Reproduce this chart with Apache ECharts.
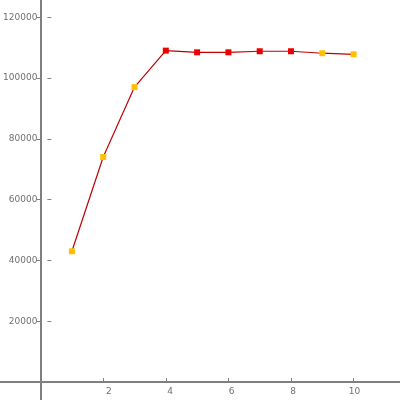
<!DOCTYPE html>
<html><head><meta charset="utf-8">
<script src="https://cdn.jsdelivr.net/npm/echarts@6/dist/echarts.min.js"></script>
<style>html,body{margin:0;padding:0;background:#fff}#c{width:400px;height:400px}</style>
</head><body><div id="c"></div>
<script>
const xs = [1, 2, 3, 4, 5, 6, 7, 8, 9, 10];
const ys = [43000, 74000, 97000, 109000, 108450, 108450, 108800, 108800, 108150, 107800];
const redXs = [4, 5, 6, 7, 8];

const chart = echarts.init(document.getElementById('c'), null, {renderer: 'canvas'});
const gray = '#808080';
const labelStyle = {color: '#707070', fontSize: 9, fontFamily: 'DejaVu Sans'};
const yFmt = v => (v > 0 && v <= 120000 ? String(v) : '');
const xFmt = v => (v > 0 && v <= 10 ? String(v) : '');
chart.setOption({
  animation: false,
  grid: [
    {left: -22, right: -16.2, top: -43.6, bottom: -42.8, containLabel: false, outerBoundsMode: 'none'},
    {left: 40.6, right: 0, top: 0, bottom: 18, containLabel: false}
  ],
  xAxis: [{
    gridIndex: 0, type: 'value', min: -2, max: 12, interval: 2,
    axisLine: {onZero: true, lineStyle: {color: gray, width: 2}},
    axisTick: {show: true, inside: true, length: 4, lineStyle: {color: gray}},
    axisLabel: {show: false},
    splitLine: {show: false}
  }, {
    gridIndex: 1, type: 'value', min: 0, max: 11.482, interval: 2,
    axisLine: {show: false, onZero: false},
    axisTick: {show: false},
    axisLabel: Object.assign({show: true, margin: 5, formatter: xFmt, showMaxLabel: false}, labelStyle),
    splitLine: {show: false}
  }],
  yAxis: [{
    gridIndex: 0, type: 'value', min: -20000, max: 140000, interval: 20000,
    axisLine: {onZero: true, lineStyle: {color: gray, width: 2}},
    axisTick: {show: true, inside: false, length: 4, lineStyle: {color: gray}},
    axisLabel: {show: false},
    splitLine: {show: false}
  }, {
    gridIndex: 1, type: 'value', min: 0, max: 125658, interval: 20000,
    axisLine: {show: false, onZero: false},
    axisTick: {show: true, inside: true, length: 4, lineStyle: {color: gray}},
    axisLabel: Object.assign({show: true, margin: 10, formatter: yFmt, showMaxLabel: false}, labelStyle),
    splitLine: {show: false}
  }],
  series: [{
    type: 'line', xAxisIndex: 0, yAxisIndex: 0,
    data: xs.map((x, i) => [x, ys[i]]),
    symbol: 'rect', symbolSize: 6,
    lineStyle: {color: '#c00000', width: 1.2},
    itemStyle: {color: p => redXs.includes(p.data[0]) ? '#ee0000' : '#ffc000'}
  }]
});
</script></body></html>
